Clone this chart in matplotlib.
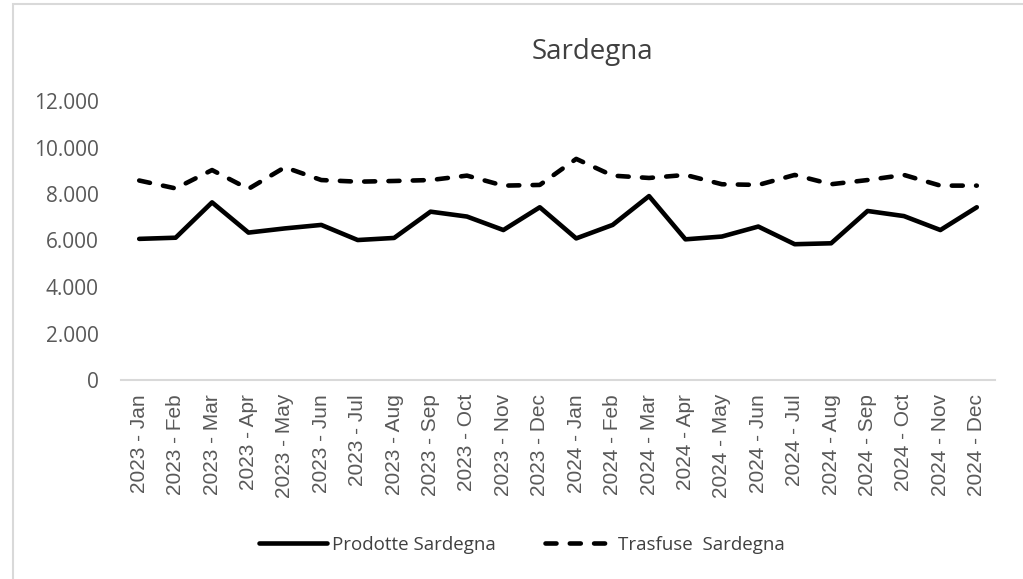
import matplotlib
matplotlib.use("Agg")
import matplotlib.pyplot as plt
from matplotlib.patches import Rectangle
from matplotlib.ticker import FuncFormatter

# data
months = ["2023 - Jan", "2023 - Feb", "2023 - Mar", "2023 - Apr", "2023 - May", "2023 - Jun",
          "2023 - Jul", "2023 - Aug", "2023 - Sep", "2023 - Oct", "2023 - Nov", "2023 - Dec",
          "2024 - Jan", "2024 - Feb", "2024 - Mar", "2024 - Apr", "2024 - May", "2024 - Jun",
          "2024 - Jul", "2024 - Aug", "2024 - Sep", "2024 - Oct", "2024 - Nov", "2024 - Dec"]
prodotte = [6070, 6120, 7640, 6340, 6520, 6670, 6020, 6110, 7240, 7030, 6450, 7430,
            6090, 6670, 7910, 6050, 6170, 6600, 5840, 5880, 7270, 7050, 6450, 7430]
trasfuse = [8580, 8240, 9030, 8220, 9150, 8600, 8530, 8560, 8600, 8790, 8360, 8390,
            9510, 8790, 8690, 8820, 8420, 8390, 8820, 8420, 8600, 8820, 8360, 8360]
yticks = [0, 2000, 4000, 6000, 8000, 10000, 12000]

W, H = 1023, 579
fig = plt.figure(figsize=(W / 100, H / 100), dpi=100)
fig.patch.set_facecolor("white")

# chart border like the spreadsheet frame
fig.patches.append(Rectangle((13 / W, -0.05), 1.2, 1 - 4 / H + 0.05, transform=fig.transFigure,
                             fill=False, edgecolor="#d9d9d9", linewidth=1.5))

ax = fig.add_axes([121 / W, 1 - 380 / H, 874 / W, 279 / H])
x = list(range(len(months)))
ax.plot(x, prodotte, color="black", linewidth=3.3, solid_capstyle="round",
        solid_joinstyle="round", label="Prodotte Sardegna")
ax.plot(x, trasfuse, color="black", linewidth=3.3, linestyle=(0, (2.4, 2.9)),
        dash_capstyle="round", dash_joinstyle="round", label="Trasfuse  Sardegna")

ax.set_xlim(-0.5, len(months) - 0.5)
ax.set_ylim(0, 12000)
ax.set_yticks(yticks)
ax.yaxis.set_major_formatter(FuncFormatter(lambda v, p: f"{int(v):,}".replace(",", ".")))
ax.set_xticks(x)
ax.set_xticklabels(months, rotation=90, fontsize=15, family="Liberation Sans", color="#595959")
for lab in ax.get_yticklabels():
    lab.set_family("Open Sans")
    lab.set_fontsize(15)
    lab.set_color("#595959")
ax.tick_params(axis="both", length=0)
ax.tick_params(axis="y", pad=16)
ax.tick_params(axis="x", pad=10)

for s in ["top", "right", "left"]:
    ax.spines[s].set_visible(False)
ax.spines["bottom"].set_color("#d9d9d9")
ax.spines["bottom"].set_linewidth(1.5)

fig.text(592 / W, 1 - 52 / H, "Sardegna", ha="center", va="center",
         fontsize=20, family="Open Sans", color="#404040")

leg = fig.legend(loc="center", bbox_to_anchor=(522 / W, 1 - 545 / H), ncol=2, frameon=False,
                 prop={"family": "Open Sans", "size": 13.5}, handlelength=3.6,
                 handletextpad=0.3, columnspacing=2.6)
for t in leg.get_texts():
    t.set_color("#404040")

fig.savefig("out.png", dpi=100)
